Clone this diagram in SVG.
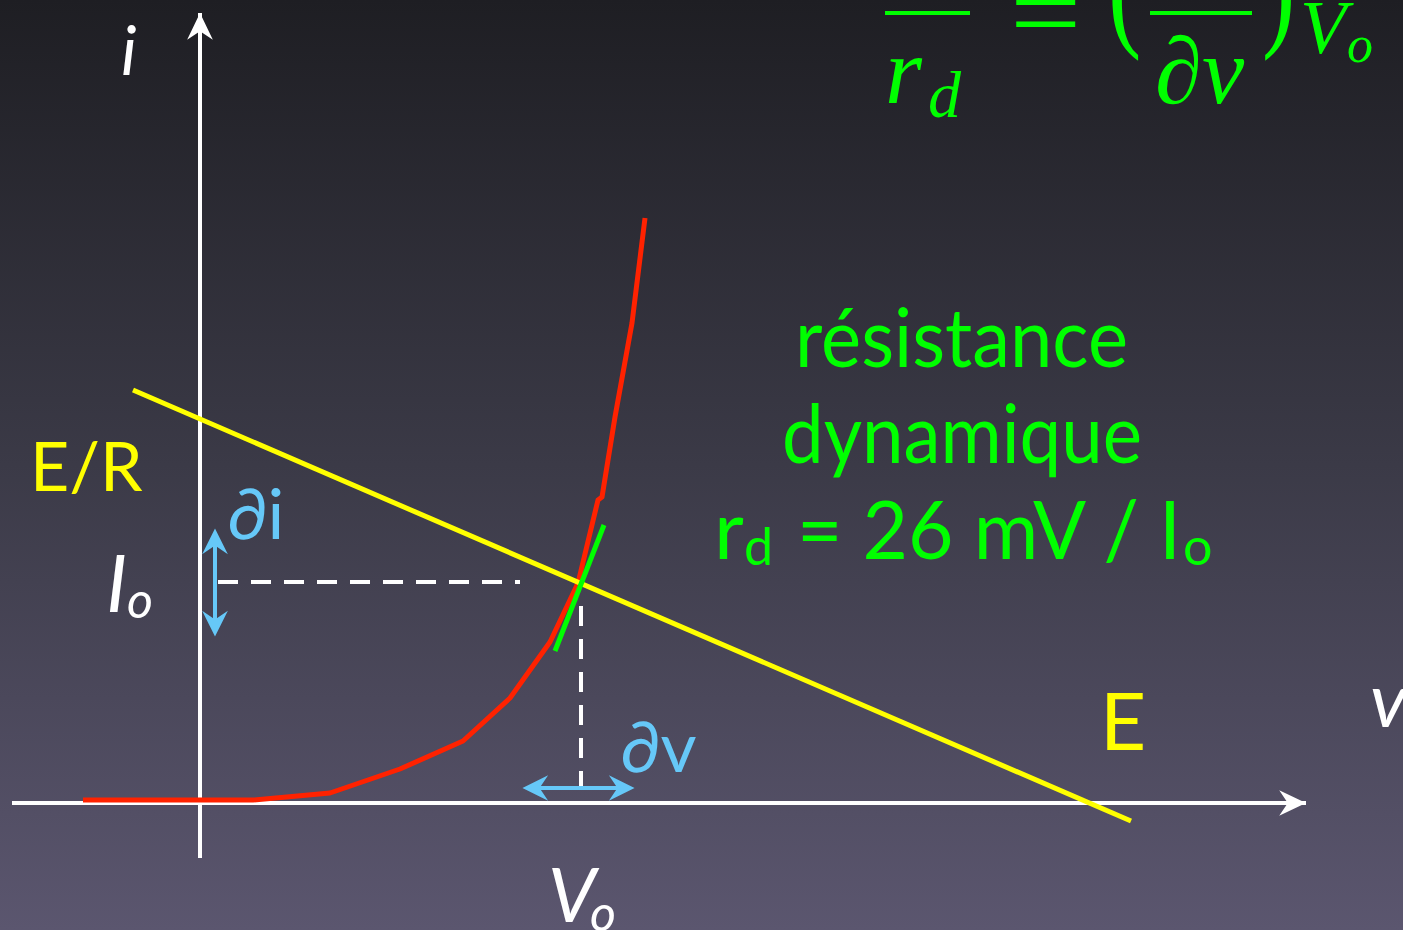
<svg xmlns="http://www.w3.org/2000/svg" width="1403" height="930" viewBox="0 0 1403 930">
<defs>
<linearGradient id="bg" x1="0" y1="0" x2="0" y2="1">
<stop offset="0" stop-color="#1e1e23"/>
<stop offset="0.5" stop-color="#3b3a47"/>
<stop offset="1" stop-color="#5b566f"/>
</linearGradient>
<marker id="ah-white" markerUnits="userSpaceOnUse" markerWidth="30" markerHeight="30" viewBox="-26 -13 28 26" refX="0" refY="0" orient="auto-start-reverse">
<path d="M0,0 L-25,-12 L-17,0 L-25,12 Z" fill="#ffffff"/>
</marker>
<marker id="ah-blue" markerUnits="userSpaceOnUse" markerWidth="30" markerHeight="30" viewBox="-26 -13 28 26" refX="-8" refY="0" orient="auto-start-reverse">
<path d="M0,0 L-24,-12 L-16,0 L-24,12 Z" fill="#66c8f8"/>
</marker>
<style>
.sans{font-family:Lato,"DejaVu Sans",sans-serif}
.it{font-style:italic}
.ser{font-family:"Liberation Serif","DejaVu Serif",serif;font-style:italic}
.up{font-style:normal}
.white{fill:#ffffff}
.yellow{fill:#ffff00}
.green{fill:#00ff00}
.blue{fill:#66c8f8}
.axis{stroke:#ffffff;stroke-width:4;fill:none}
.dash{stroke:#ffffff;stroke-width:4;stroke-dasharray:20 13;fill:none}
.barrow{stroke:#66c8f8;stroke-width:4;fill:none}
</style>
</defs>
<rect x="0" y="0" width="1403" height="930" fill="url(#bg)"/>

<g id="formula">
<rect x="885" y="11" width="85" height="4" fill="#00ff00"/>
<text class="ser green" x="885" y="103" font-size="95">r</text>
<text class="ser green" x="928" y="117" font-size="66">d</text>
<text class="ser up green" transform="translate(1010,50) scale(1.15,1)" x="0" y="0" font-size="110">=</text>
<text class="ser up green" transform="translate(1108,31) scale(1,1.4)" x="0" y="0" font-size="100">(</text>
<rect x="1150" y="11" width="102" height="4" fill="#00ff00"/>
<text class="ser green" x="1155" y="103" font-size="95">∂v</text>
<text class="ser up green" transform="translate(1262,31) scale(1,1.4)" x="0" y="0" font-size="100">)</text>
<text class="ser green" x="1300" y="53" font-size="76">V</text>
<text class="ser green" x="1347" y="62" font-size="52">o</text>
</g>

<g id="connectors">
<line id="i-axis" class="axis" x1="200" y1="858" x2="200" y2="13" marker-end="url(#ah-white)"/>
<line id="v-axis" class="axis" x1="12" y1="803" x2="1306" y2="803" marker-end="url(#ah-white)"/>
<polyline id="dash-h" class="dash" points="218,582 520,582"/>
<polyline id="dash-v" class="dash" points="581,606 581,790"/>
<line id="di-arrow" class="barrow" x1="215" y1="537" x2="215" y2="628" marker-start="url(#ah-blue)" marker-end="url(#ah-blue)"/>
<line id="dv-arrow" class="barrow" x1="531" y1="788" x2="626" y2="788" marker-start="url(#ah-blue)" marker-end="url(#ah-blue)"/>
</g>

<g id="diode-curve">
<polyline points="83,800 253,800 330,793 400,769 463,741 510,698 550,642 578,583 598,500 602,497 615,417 632,323 645,218" fill="none" stroke="#ff2200" stroke-width="5" stroke-linejoin="round"/>
</g>
<g id="load-line">
<line x1="133" y1="390" x2="1131" y2="821" stroke="#ffff00" stroke-width="5"/>
</g>
<g id="tangent">
<line x1="604" y1="525" x2="555" y2="651" stroke="#00ff00" stroke-width="5"/>
</g>

<g id="labels">
<text class="sans it white" x="121" y="75" font-size="68">i</text>
<text class="sans yellow" x="30" y="491" font-size="68">E/R</text>
<text class="sans blue" x="227" y="539" font-size="70">∂i</text>
<text class="sans it white" x="106" y="612" font-size="80">I</text>
<text class="sans it white" x="127" y="618" font-size="50">o</text>
<text class="sans blue" x="620" y="772" font-size="70">∂v</text>
<text class="sans it white" x="548" y="922" font-size="76">V</text>
<text class="sans it white" x="590" y="931" font-size="50">o</text>
<text class="sans yellow" x="1100" y="750" font-size="80">E</text>
<text class="sans it white" x="1370" y="727" font-size="76">v</text>
</g>

<g id="rd-text" class="sans green">
<text x="795" y="367" font-size="82" textLength="333" lengthAdjust="spacingAndGlyphs">résistance</text>
<text x="782" y="463" font-size="82" textLength="360" lengthAdjust="spacingAndGlyphs">dynamique</text>
<text x="714" y="559" font-size="82">r</text>
<text x="744" y="565" font-size="52">d</text>
<text x="797" y="559" font-size="82" textLength="384" lengthAdjust="spacingAndGlyphs">= 26 mV / I</text>
<text x="1183" y="565" font-size="52">o</text>
</g>
</svg>
